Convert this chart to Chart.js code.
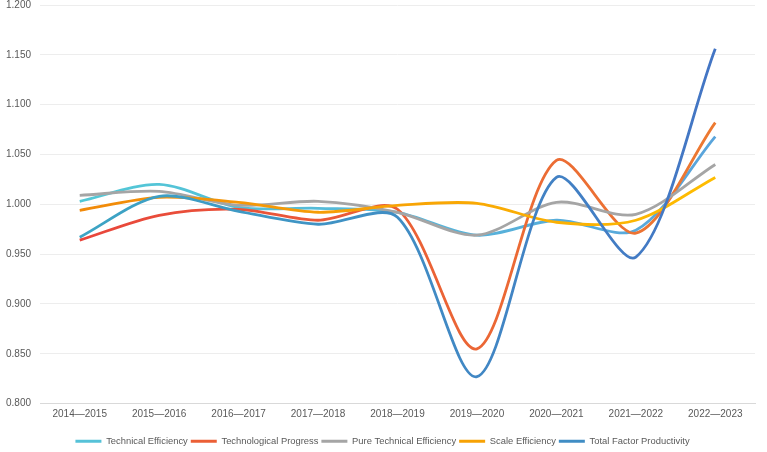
<!DOCTYPE html>
<html>
<head>
<meta charset="utf-8">
<script src="https://cdn.jsdelivr.net/npm/chart.js@4.4.1/dist/chart.umd.min.js"></script>
<style>
  html, body { margin: 0; padding: 0; background: #fff; overflow: hidden; }
  #wrap { width: 767px; height: 462px; margin-top: -10px; }
</style>
</head>
<body>
<div id="wrap"><canvas id="c"></canvas></div>
<script>
const periods = ["2014—2015", "2015—2016", "2016—2017", "2017—2018", "2018—2019",
                 "2019—2020", "2020—2021", "2021—2022", "2022—2023"];
const technicalEfficiency = [1.003, 1.020, 0.997, 0.996, 0.992, 0.969, 0.984, 0.974, 1.068];
const technologicalProgress = [0.964, 0.989, 0.995, 0.984, 0.995, 0.855, 1.044, 0.971, 1.082];
const pureTechnicalEfficiency = [1.009, 1.013, 0.999, 1.003, 0.992, 0.969, 1.002, 0.990, 1.040];
const scaleEfficiency = [0.994, 1.007, 1.002, 0.992, 0.999, 1.001, 0.982, 0.984, 1.027];
const totalFactorProductivity = [0.967, 1.008, 0.993, 0.980, 0.987, 0.827, 1.027, 0.947, 1.156];

// left -> right colour of each line (the original strokes are gradients)
const gradientStops = [
    ["#52CBD6", "#5AA2DC"],
    ["#E8423C", "#ED7D31"],
    ["#A5A5A5", "#A5A5A5"],
    ["#F0860A", "#FFC000"],
    ["#3CA8C4", "#4472C4"]
];
const legendColors = ["#56C2D8", "#EB5F36", "#A5A5A5", "#F7A205", "#408DC4"];

function strokeFor(i){
    return ctx => {
        const {ctx: c, chartArea} = ctx.chart;
        if(!chartArea) return gradientStops[i][1];
        const g = c.createLinearGradient(chartArea.left, 0, chartArea.right, 0);
        g.addColorStop(0, gradientStops[i][0]);
        g.addColorStop(1, gradientStops[i][1]);
        return g;
    };
}

function line(label, data, i, order){
    return {
        label,
        data,
        borderColor: strokeFor(i),
        backgroundColor: legendColors[i],
        borderWidth: 2.8,
        pointRadius: 0,
        tension: 0.3,
        fill: false,
        order
    };
}

// the legend sits centred on the whole picture, not on the padded box
const nudgeLegend = {
    id: "nudgeLegend",
    afterLayout(chart){
        chart.legend.left += 5;
        chart.legend.right += 5;
    }
};

new Chart(document.getElementById("c"), {
    type: "line",
    data: {
        labels: periods,
        datasets: [
            line("Technical Efficiency", technicalEfficiency, 0, 4),
            line("Technological Progress", technologicalProgress, 1, 3),
            line("Pure Technical Efficiency", pureTechnicalEfficiency, 2, 2),
            line("Scale Efficiency", scaleEfficiency, 3, 1),
            line("Total Factor Productivity", totalFactorProductivity, 4, 0)
        ]
    },
    plugins: [nudgeLegend],
    options: {
        responsive: true,
        maintainAspectRatio: false,
        animation: false,
        layout: { padding: { left: 0, right: 12, top: 0, bottom: -4 } },
        scales: {
            x: {
                offset: true,
                afterFit: s => { s.height += 8; },
                grid: { display: false, drawTicks: false },
                border: { color: "#D9D9D9" },
                ticks: { color: "#595959", font: { family: "Liberation Sans", size: 10 }, padding: 5, maxRotation: 0 }
            },
            y: {
                min: 0.8,
                max: 1.2,
                afterFit: s => { s.width = 40; },
                grid: { color: "#EDEDED", drawTicks: false },
                border: { display: false },
                ticks: {
                    stepSize: 0.05,
                    padding: 9,
                    color: "#595959",
                    font: { family: "Liberation Sans", size: 10 },
                    callback: v => v.toFixed(3)
                }
            }
        },
        plugins: {
            tooltip: { enabled: false },
            legend: {
                position: "bottom",
                labels: {
                    color: "#595959",
                    font: { family: "Liberation Sans", size: 9.4 },
                    boxWidth: 26,
                    boxHeight: 3,
                    padding: 3,
                    sort: (a, b) => a.datasetIndex - b.datasetIndex,
                    generateLabels: chart => chart.data.datasets.map((d, i) => ({
                        text: d.label,
                        fillStyle: legendColors[i],
                        strokeStyle: legendColors[i],
                        lineWidth: 0,
                        fontColor: "#595959",
                        hidden: false,
                        datasetIndex: i
                    }))
                }
            }
        }
    }
});
</script>
</body>
</html>
